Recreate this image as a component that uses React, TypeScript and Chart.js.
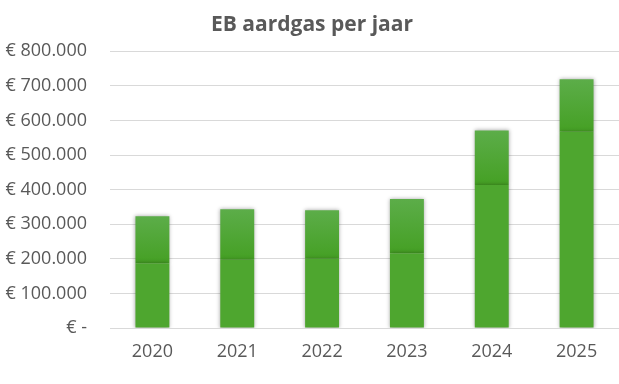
import React, { useEffect, useRef } from "react";
import { Chart, registerables } from "chart.js";

Chart.register(...registerables);

const years = ["2020", "2021", "2022", "2023", "2024", "2025"];
const lowerPart = [187000, 197000, 200000, 216000, 413000, 567000];
const upperPart = [136000, 146000, 140000, 157000, 158000, 152000];
const titleText = "EB aardgas per jaar";

const fmt = (v: number) => {
  if (v === 0) return "€ -";
  return "€ " + String(Math.round(v)).replace(/\B(?=(\d{3})+(?!\d))/g, ".");
};

const shadowPlugin = {
  id: "barShadow",
  beforeDatasetDraw(chart: any) {
    const ctx = chart.ctx;
    ctx.save();
    ctx.shadowColor = "rgba(0,0,0,0.35)";
    ctx.shadowBlur = 4;
    ctx.shadowOffsetX = 0;
    ctx.shadowOffsetY = 0;
  },
  afterDatasetDraw(chart: any) {
    chart.ctx.restore();
  },
};

export default function App() {
  const ref = useRef<HTMLCanvasElement | null>(null);
  useEffect(() => {
    document.body.style.margin = "0";
    const canvas = ref.current!;
    const chart = new Chart(canvas, {
      type: "bar",
      data: {
        labels: years,
        datasets: [
          {
            label: "basis",
            data: lowerPart,
            backgroundColor: "#4ea62f",
            borderWidth: 0,
            barPercentage: 0.4,
            categoryPercentage: 1,
          },
          {
            label: "top",
            data: upperPart,
            borderWidth: 0,
            barPercentage: 0.4,
            categoryPercentage: 1,
            backgroundColor: (c: any) => {
              const ch = c.chart;
              const y = ch.scales?.y;
              if (!ch.chartArea || !y || c.dataIndex === undefined) return "#52a83a";
              const i = c.dataIndex;
              const top = y.getPixelForValue(lowerPart[i] + upperPart[i]);
              const bot = y.getPixelForValue(lowerPart[i]);
              if (!isFinite(top) || !isFinite(bot) || top === bot) return "#52a83a";
              const g = ch.ctx.createLinearGradient(0, top, 0, bot);
              g.addColorStop(0, "#5cad49");
              g.addColorStop(1, "#45a024");
              return g;
            },
          },
        ],
      },
      options: {
        responsive: false,
        animation: false,
        layout: { padding: { left: 5, right: 0, top: 0, bottom: 0 } },
        plugins: {
          legend: { display: false },
          tooltip: { enabled: false },
          title: {
            display: true,
            text: titleText,
            color: "#595959",
            font: { family: "'Open Sans', sans-serif", size: 21, weight: "bold" },
            padding: { top: 12, bottom: 14 },
          },
        },
        scales: {
          x: {
            stacked: true,
            grid: { display: false, drawTicks: false },
            border: { display: true, color: "#d9d9d9", width: 1 },
            ticks: {
              color: "#595959",
              font: { family: "'Open Sans', sans-serif", size: 18 },
              padding: 13,
            },
            afterFit: (s: any) => {
              s.height = 56;
            },
          },
          y: {
            stacked: true,
            min: 0,
            max: 800000,
            grid: { color: "#d9d9d9", drawTicks: false },
            border: { display: false },
            ticks: {
              stepSize: 100000,
              color: "#595959",
              font: { family: "'Open Sans', sans-serif", size: 18 },
              padding: 23,
              callback: (v: any) => fmt(Number(v)),
            },
            afterFit: (s: any) => {
              s.width = 105;
            },
          },
        },
      },
      plugins: [shadowPlugin],
    });
    return () => chart.destroy();
  }, []);
  return (
    <div style={{ position: "absolute", left: 0, top: 0, width: 619, height: 384 }}>
      <canvas ref={ref} width={619} height={384} style={{ display: "block" }} />
    </div>
  );
}
